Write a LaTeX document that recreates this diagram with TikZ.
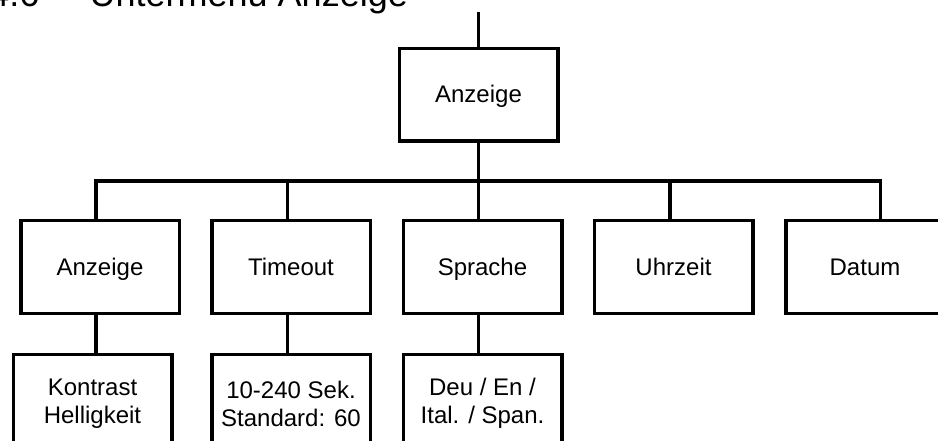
\documentclass[tikz,border=0pt]{standalone}
\usepackage{fontspec}
\setmainfont{Liberation Sans}
\begin{document}
\begin{tikzpicture}[x=1pt,y=-1pt,
  box/.style={draw=black, line width=3.5pt, rectangle, minimum width=158.5pt, minimum height=92.5pt, inner sep=0pt, align=center, font=\fontsize{24}{28}\selectfont},
  onebox/.style={box, text height=17pt, text depth=1pt},
  twobox/.style={box, minimum height=98pt},
  conn/.style={draw=black, line width=3.5pt, line join=miter},
  title/.style={inner sep=0pt, font=\fontsize{36}{40}\selectfont}]
\useasboundingbox[fill=white] (0,0) rectangle (938,441);
% title
\node[title, anchor=base east] (tnum) at (39.5,7) {4.6};
\node[title, anchor=base west] (ttxt) at (89.5,7) {Untermenu Anzeige};
% top box
\node[onebox] (T) at (478.5,95) {Anzeige};
\coordinate (top) at (478.5,12);
% row 2
\node[onebox] (A1) at (100,267) {Anzeige};
\node[onebox] (A2) at (291,267) {Timeout};
\node[onebox] (A3) at (482.5,267) {Sprache};
\node[onebox] (A4) at (673.5,267) {Uhrzeit};
\node[onebox] (A5) at (865,267) {Datum};
% row 3
\node[twobox] (K1) at (92.5,403.5) {Kontrast\\Helligkeit};
\node[twobox] (K2) at (291,403.5) {10-240 Sek.\\Standard: 60};
\node[twobox] (K3) at (482.5,403.5) {Deu / En /\\Ital. / Span.};
% junctions on the bus
\coordinate (j0) at (478.5,181);
\coordinate (j1) at (96,181);
\coordinate (j2) at (287.7,181);
\coordinate (j3) at (478.7,181);
\coordinate (j4) at (670,181);
\coordinate (j5) at (880.7,181);
% connectors
\draw[conn] (top) -- (T.north);
\draw[conn] (T.south) -- (j0);
\draw[conn] (j1 |- A1.north) -- (j1) -- (j5) -- (j5 |- A5.north);
\draw[conn] (j2) -- (j2 |- A2.north);
\draw[conn] (j3) -- (j3 |- A3.north);
\draw[conn] (j4) -- (j4 |- A4.north);
\draw[conn] (j1 |- A1.south) -- (j1 |- K1.north);
\draw[conn] (j2 |- A2.south) -- (j2 |- K2.north);
\draw[conn] (j3 |- A3.south) -- (j3 |- K3.north);
\end{tikzpicture}
\end{document}
